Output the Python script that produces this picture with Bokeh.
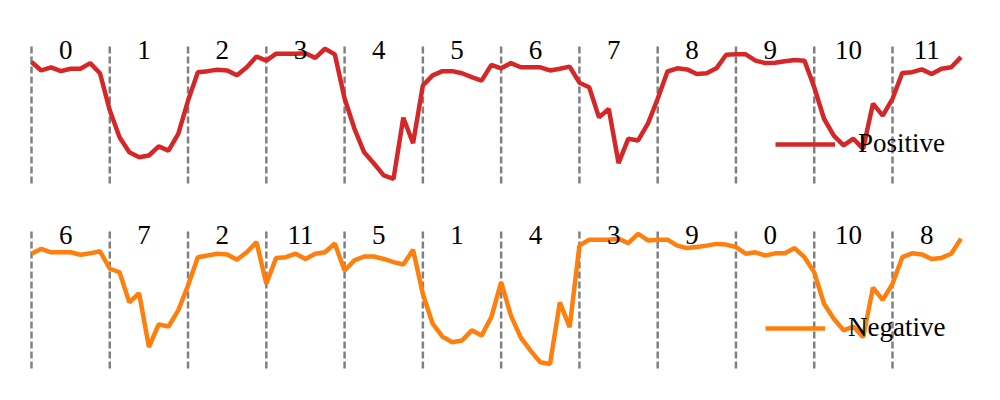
from bokeh.plotting import figure
from bokeh.layouts import column
from bokeh.models import Range1d, Legend, LegendItem, ColumnDataSource
from bokeh.core.properties import value
from bokeh.embed import file_html
from bokeh.resources import INLINE

# ---- data ----
seg_len = 8
top_labels = ["0", "1", "2", "3", "4", "5", "6", "7", "8", "9", "10", "11"]
bottom_labels = ["6", "7", "2", "11", "5", "1", "4", "3", "9", "0", "10", "8"]

positive = [
    1.67, 1.43, 1.52, 1.41, 1.48, 1.48, 1.64, 1.35,
    0.29, -0.48, -0.91, -1.05, -1.00, -0.74, -0.86, -0.38,
    0.57, 1.38, 1.41, 1.45, 1.43, 1.29, 1.52, 1.83,
    1.71, 1.91, 1.91, 1.91, 1.92, 1.79, 2.05, 1.89,
    0.63, -0.23, -0.91, -1.23, -1.57, -1.67, 0.08, -0.65,
    1.00, 1.29, 1.41, 1.41, 1.35, 1.24, 1.14, 1.59,
    1.49, 1.64, 1.52, 1.52, 1.52, 1.43, 1.48, 1.54,
    1.08, 0.95, 0.09, 0.33, -1.22, -0.52, -0.57, -0.09,
    0.62, 1.40, 1.49, 1.46, 1.33, 1.35, 1.49, 1.88,
    1.89, 1.89, 1.71, 1.64, 1.65, 1.69, 1.73, 1.71,
    0.95, 0.05, -0.43, -0.71, -0.52, -0.81, 0.48, 0.14,
    0.62, 1.36, 1.38, 1.46, 1.33, 1.48, 1.52, 1.81,
]

negative = [
    1.48, 1.62, 1.52, 1.52, 1.52, 1.45, 1.49, 1.55,
    1.05, 0.95, 0.09, 0.35, -1.19, -0.54, -0.60, -0.14,
    0.57, 1.38, 1.43, 1.48, 1.46, 1.31, 1.52, 1.81,
    0.62, 1.36, 1.38, 1.48, 1.33, 1.48, 1.52, 1.77,
    1.00, 1.29, 1.40, 1.40, 1.33, 1.24, 1.17, 1.59,
    0.33, -0.52, -0.89, -1.05, -1.00, -0.71, -0.86, -0.33,
    0.67, -0.29, -0.91, -1.29, -1.62, -1.67, 0.09, -0.62,
    1.71, 1.88, 1.88, 1.88, 1.91, 1.78, 2.05, 1.86,
    1.88, 1.88, 1.71, 1.64, 1.67, 1.71, 1.76, 1.74,
    1.67, 1.48, 1.52, 1.43, 1.49, 1.49, 1.64, 1.38,
    0.95, 0.05, -0.38, -0.71, -0.60, -0.91, 0.51, 0.16,
    0.62, 1.38, 1.49, 1.46, 1.33, 1.36, 1.48, 1.91,
]

FONT = "'Liberation Serif', 'Times New Roman', serif"


def make_panel(values, labels, color, name, legend_x, legend_y, top_pad):
    n = len(values)
    xs = list(range(n))
    p = figure(width=992, height=185 + top_pad, output_backend="svg",
               toolbar_location=None,
               x_range=Range1d(-2.351, 98.22), y_range=Range1d(-2.086, 3.2),
               x_axis_location=None, y_axis_location=None, min_border=0,
               min_border_left=8, min_border_top=top_pad,
               outline_line_color=None)
    p.grid.visible = False
    p.background_fill_color = "white"

    seps = [k * seg_len for k in range(len(labels))]
    p.segment(x0=seps, x1=seps, y0=[-1.8] * len(seps), y1=[2.2] * len(seps),
              line_color="#808080", line_width=2.5, line_dash="7 3")

    r = p.line(xs, values, line_color=color, line_width=4.5)

    centers = [k * seg_len + (seg_len - 1) / 2 for k in range(len(labels))]
    src = ColumnDataSource(dict(x=centers, y=[2.0] * len(centers), t=labels))
    p.text(x="x", y="y", text="t", source=src, text_font=value(FONT),
           text_font_size="27px", text_align="center",
           text_baseline="alphabetic", text_color="black")

    legend = Legend(items=[LegendItem(label=name, renderers=[r])],
                    location=(legend_x, legend_y),
                    background_fill_alpha=0, border_line_alpha=0,
                    glyph_width=60, glyph_height=30, label_height=30,
                    label_standoff=23, padding=0, margin=0, spacing=0,
                    label_text_font=FONT, label_text_font_size="27px",
                    label_text_color="black")
    p.add_layout(legend)
    return p


p1 = make_panel(positive, top_labels, "#d62728", "Positive", 767, 34, 8)
p2 = make_panel(negative, bottom_labels, "#ff7f0e", "Negative", 757, 35, 0)

layout = column(p1, p2, spacing=0)
open("out.html", "w").write(file_html(layout, INLINE))
